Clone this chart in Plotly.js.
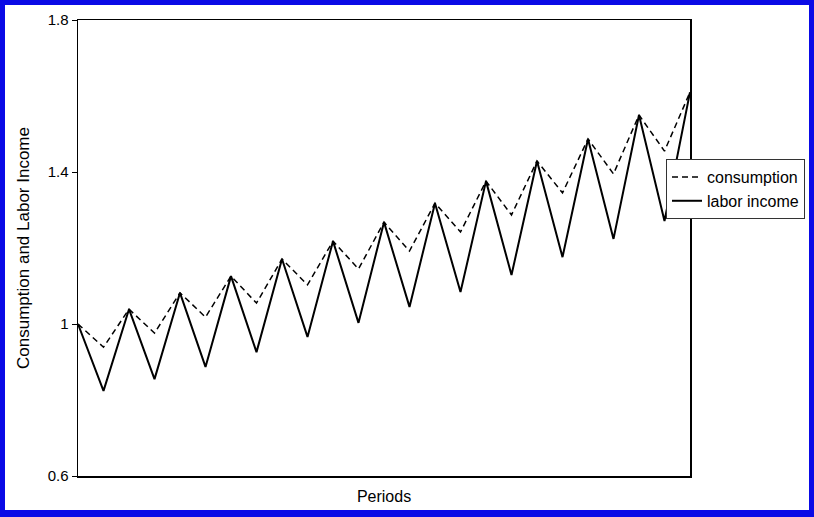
<!DOCTYPE html>
<html>
<head>
<meta charset="utf-8">
<script src="https://cdn.plot.ly/plotly-3.0.1.min.js"></script>
<style>
  html, body { margin: 0; padding: 0; background: #fff; }
  #wrap { position: relative; width: 814px; height: 517px; }
  #chart { position: absolute; left: 0; top: 0; width: 814px; height: 517px; }
  #frame { position: absolute; left: 0; top: 0; width: 814px; height: 517px; box-sizing: border-box;
           border-style: solid; border-color: #0a0ae6; border-width: 5px 5px 7px 5px; pointer-events: none; }
</style>
</head>
<body>
<div id="wrap">
  <div id="chart"></div>
  <div id="frame"></div>
</div>
<script>
// Periods (0..24)
const periods = [0,1,2,3,4,5,6,7,8,9,10,11,12,13,14,15,16,17,18,19,20,21,22,23,24];
// Labor income: peaks in even periods, troughs in odd periods
const laborIncome = [1.000,0.824,1.039,0.855,1.082,0.887,1.126,0.926,1.171,0.966,1.218,1.003,1.268,1.045,1.318,1.084,1.376,1.129,1.429,1.176,1.487,1.224,1.550,1.271,1.610];
// Consumption
const consumption = [1.000,0.939,1.039,0.976,1.082,1.018,1.126,1.055,1.171,1.103,1.218,1.145,1.268,1.192,1.318,1.242,1.376,1.287,1.429,1.345,1.487,1.395,1.550,1.455,1.610];
const yTicks = [0.6, 1, 1.4, 1.8];
const yTickLabels = ['0.6', '1', '1.4', '1.8'];

const font = 'Liberation Sans, Arial, sans-serif';

const traces = [
  { x: periods, y: consumption, name: 'consumption', mode: 'lines',
    line: { color: '#000', width: 1.5, dash: '6px,4px' } },
  { x: periods, y: laborIncome, name: 'labor income', mode: 'lines',
    line: { color: '#000', width: 2 } }
];

const layout = {
  width: 814, height: 517,
  margin: { l: 78, r: 124, t: 20, b: 41, autoexpand: false },
  paper_bgcolor: '#fff', plot_bgcolor: '#fff',
  font: { family: font, size: 15, color: '#000' },
  showlegend: true,
  legend: { x: 0.96, y: 0.695, xref: 'paper', xanchor: 'left', yanchor: 'top',
            bgcolor: '#fff', bordercolor: '#333', borderwidth: 1,
            font: { family: font, size: 16, color: '#000' },
            tracegroupgap: 0, itemwidth: 30 },
  xaxis: { range: [0, 24], showticklabels: false, ticks: '', showgrid: false, zeroline: false,
           showline: true, mirror: true, linecolor: '#000', linewidth: 1.5,
           title: { text: 'Periods', font: { family: font, size: 16 }, standoff: 14 } },
  yaxis: { range: [0.6, 1.8], tickvals: yTicks, ticktext: yTickLabels, ticks: 'outside', ticklen: 5,
           tickcolor: '#000', showgrid: false, zeroline: false,
           showline: true, mirror: true, linecolor: '#000', linewidth: 1.5,
           tickfont: { family: font, size: 15 },
           title: { text: 'Consumption and Labor Income', font: { family: font, size: 17 }, standoff: 13 } }
};
// legend left edge in paper coords: text should start near x=708px
layout.legend.x = (666 - 78) / (814 - 78 - 124);

Plotly.newPlot('chart', traces, layout, { displayModeBar: false, staticPlot: true });
</script>
</body>
</html>
